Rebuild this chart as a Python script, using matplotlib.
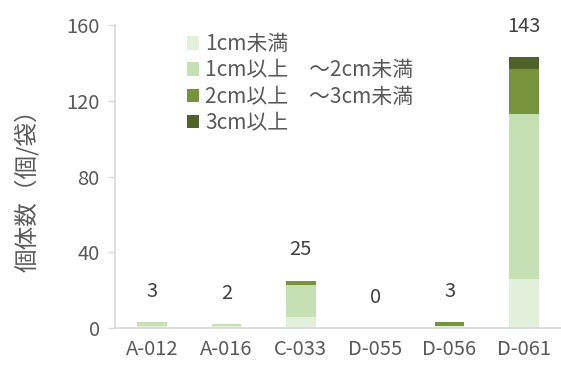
import matplotlib

matplotlib.use("Agg")
import matplotlib.pyplot as plt
import numpy as np

plt.rcParams["font.family"] = ["Noto Sans CJK JP", "DejaVu Sans"]

# data
sites = ["A-012", "A-016", "C-033", "D-055", "D-056", "D-061"]
lt_1cm = [1, 1, 6, 0, 1, 26]
cm1_2 = [2, 1, 17, 0, 0, 87]
cm2_3 = [0, 0, 2, 0, 2, 24]
ge_3cm = [0, 0, 0, 0, 0, 6]
totals = [3, 2, 25, 0, 3, 143]

series = [
    ("1cm未満", lt_1cm, "#E2EFDA"),
    ("1cm以上　～2cm未満", cm1_2, "#C6E0B4"),
    ("2cm以上　～3cm未満", cm2_3, "#77933C"),
    ("3cm以上", ge_3cm, "#4F6228"),
]

text_color = "#595959"
axis_color = "#D9D9D9"

fig = plt.figure(figsize=(5.61, 3.67), dpi=100)
ax = fig.add_axes([0.205, 0.106, 0.795, 0.826])

x = np.arange(len(sites))
bottom = np.zeros(len(sites))
for label, vals, color in series:
    ax.bar(x, vals, width=0.4, bottom=bottom, color=color, label=label)
    bottom += np.array(vals)

for xi, t in zip(x, totals):
    ax.text(xi, t + 16.3, str(t), ha="center", va="center",
            fontsize=14.5, color="#404040", clip_on=False)

ax.set_xlim(-0.5, 5.5)
ax.set_ylim(0, 160)
ax.set_yticks([0, 40, 80, 120, 160])
ax.set_xticks(x)
ax.set_xticklabels(sites)
ax.tick_params(axis="x", length=0, labelsize=14.5, colors=text_color, pad=8)
ax.tick_params(axis="y", length=5, width=1, color=axis_color,
               labelsize=14.5, labelcolor=text_color, pad=6)

fig.text(27 / 561, 0.496, "個体数（個/袋）", rotation=90, ha="center",
         va="center", fontsize=17, color=text_color)

for side in ["top", "right"]:
    ax.spines[side].set_visible(False)
for side in ["left", "bottom"]:
    ax.spines[side].set_color(axis_color)
    ax.spines[side].set_linewidth(1.2)

leg = ax.legend(loc="upper left", bbox_to_anchor=(0.142, 1.0), frameon=False,
                fontsize=15, handlelength=0.6, handleheight=0.6,
                handletextpad=0.3, labelspacing=0.2, borderaxespad=0)
for txt in leg.get_texts():
    txt.set_color(text_color)

fig.savefig("out.png", dpi=100)
